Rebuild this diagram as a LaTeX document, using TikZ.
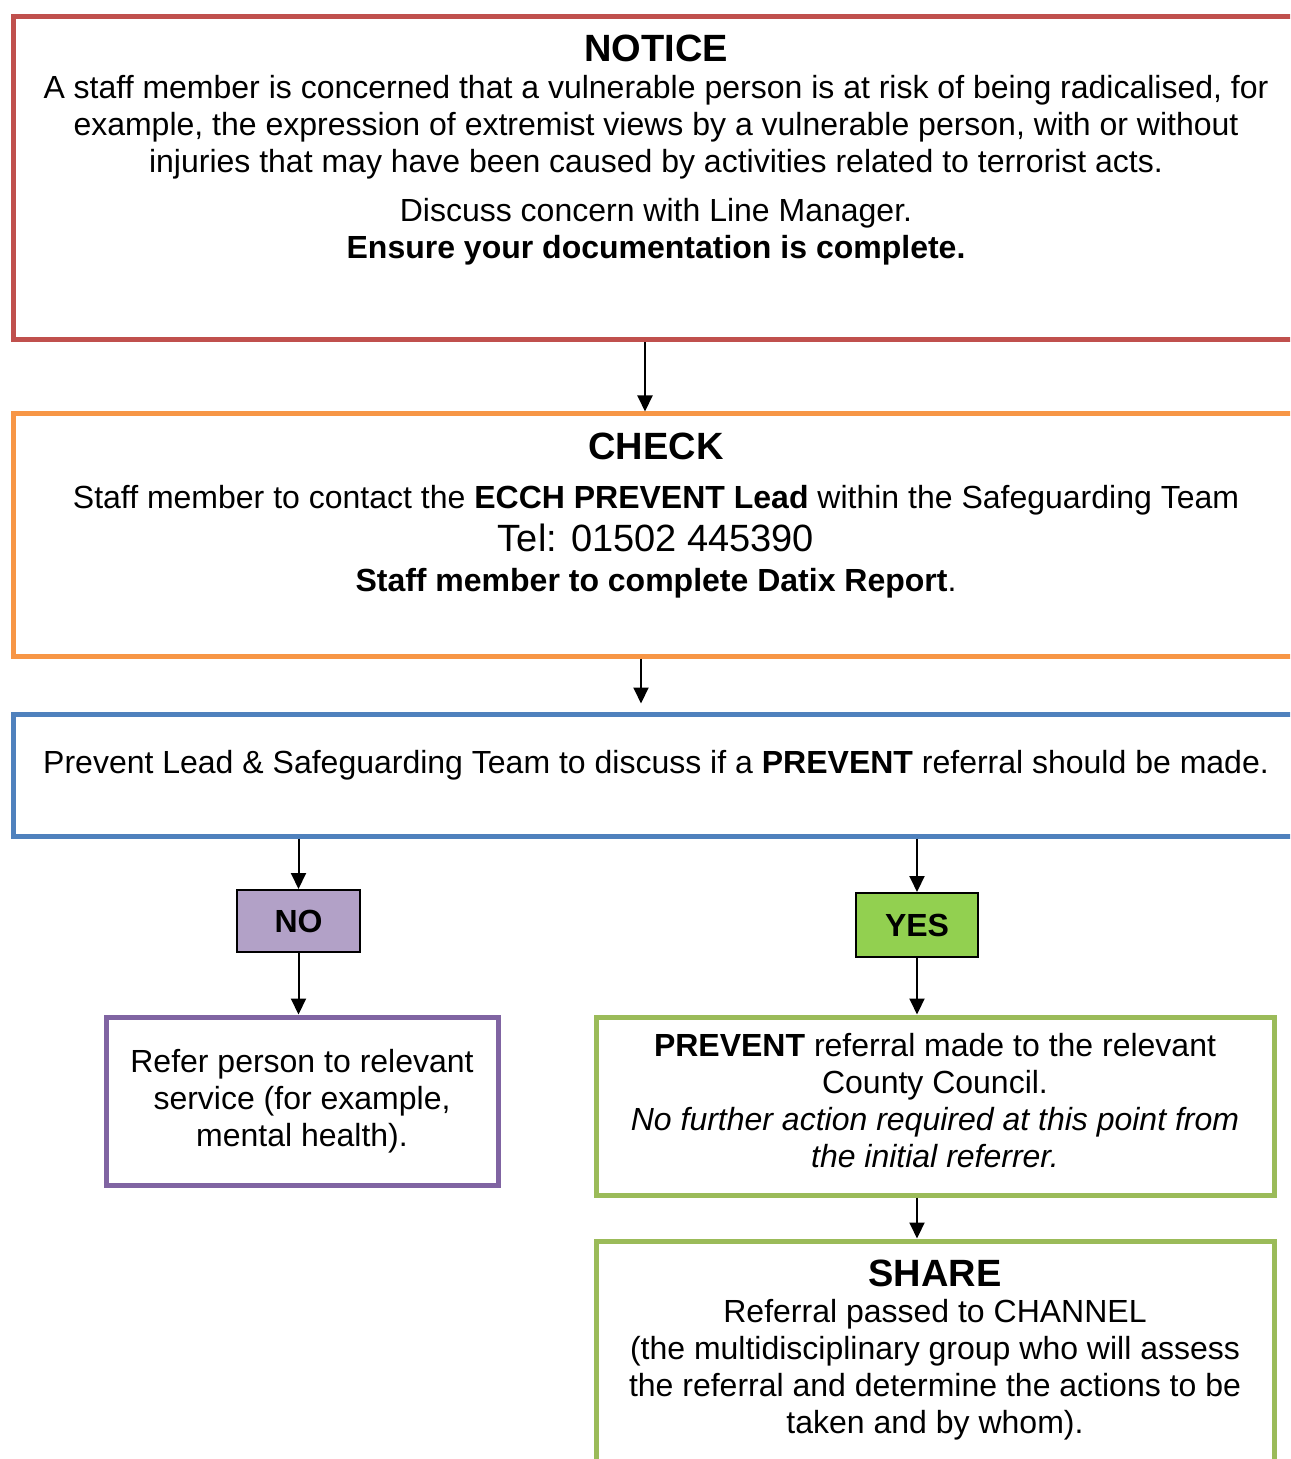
\documentclass[tikz,border=0pt]{standalone}
\usepackage{fontspec}
\setmainfont{Liberation Sans}
\usetikzlibrary{arrows.meta}
\definecolor{noticered}{HTML}{C0504D}
\definecolor{checkorange}{HTML}{F79646}
\definecolor{discussblue}{HTML}{4F81BD}
\definecolor{referpurple}{HTML}{8064A2}
\definecolor{sharegreen}{HTML}{9BBB59}
\definecolor{nofill}{HTML}{B2A1C7}
\definecolor{yesfill}{HTML}{92D050}

\begin{document}
\begin{tikzpicture}[x=0.5pt,y=-0.5pt,
	box/.style={draw,line width=2.5pt,inner sep=0},
	choice/.style={draw=black,line width=1pt,inner sep=0,font=\bfseries\fontsize{16}{18.5}\selectfont},
	txt/.style={align=center,anchor=base,inner sep=0,font=\fontsize{16}{18.5}\selectfont},
	head/.style={anchor=base,inner sep=0,font=\bfseries\fontsize{19}{22}\selectfont},
	arr/.style={-{Triangle[length=8pt,width=7.5pt]},line width=1pt}]
	\useasboundingbox (0,0) rectangle (1290,1459);
	\clip (0,0) rectangle (1290,1459);
	\node[box,draw=noticered,minimum width=643pt,minimum height=161.5pt] (notice) at (656,178.5) {};
	\node[box,draw=checkorange,minimum width=643pt,minimum height=121pt] (check) at (656,535) {};
	\node[box,draw=discussblue,minimum width=643pt,minimum height=61pt] (discuss) at (656,775) {};
	\node[choice,fill=nofill,minimum width=61.5pt,minimum height=31pt] (no) at (298.5,921) {NO};
	\node[choice,fill=yesfill,minimum width=61pt,minimum height=32pt] (yes) at (917,925) {YES};
	\node[box,draw=referpurple,minimum width=196pt,minimum height=84pt] (refer) at (302,1101) {};
	\node[box,draw=sharegreen,minimum width=339pt,minimum height=89pt] (referral) at (935,1106) {};
	\node[box,draw=sharegreen,minimum width=339pt,minimum height=129pt] (share) at (935,1370) {};

	\node[head] (noticehead) at (656,62) {NOTICE};
	\node[txt] (noticetxt) at (656,173) {A staff member is concerned that a vulnerable person is at risk of being radicalised, for\\example, the expression of extremist views by a vulnerable person, with or without\\injuries that may have been caused by activities related to terrorist acts.};
	\node[txt] (noticeact) at (656,259) {Discuss concern with Line Manager.\\\textbf{Ensure your documentation is complete.}};
	\node[head] (checkhead) at (656,460) {CHECK};
	\node[txt] (checktxt) at (656,509) {Staff member to contact the \textbf{ECCH PREVENT Lead} within the Safeguarding Team};
	\node[txt,font=\fontsize{19}{22}\selectfont] (checktel) at (656,551) {Tel: 01502 445390};
	\node[txt] (checkdatix) at (656,591) {\textbf{Staff member to complete Datix Report}.};
	\node[txt] (discusstxt) at (656,773) {Prevent Lead \& Safeguarding Team to discuss if a \textbf{PREVENT} referral should be made.};
	\node[txt] (refertxt) at (302,1146) {Refer person to relevant\\service (for example,\\mental health).};
	\node[txt] (referraltxt) at (935,1167) {\textbf{PREVENT} referral made to the relevant\\County Council.\\\textit{No further action required at this point from}\\\textit{the initial referrer.}};
	\node[head] (sharehead) at (935,1286) {SHARE};
	\node[txt] (sharetxt) at (935,1433) {Referral passed to CHANNEL\\(the multidisciplinary group who will assess\\the referral and determine the actions to be\\taken and by whom).};

	\draw[arr] ([xshift=-5.5pt]notice.south) -- ([xshift=-5.5pt]check.north);
	\draw[arr] ([xshift=-7.5pt]check.south) -- ([xshift=-7.5pt,yshift=4pt]discuss.north);
	\draw[arr] (discuss.south -| no.north) -- (no.north);
	\draw[arr] (no.south) -- (refer.north -| no.south);
	\draw[arr] (discuss.south -| yes.north) -- (yes.north);
	\draw[arr] (yes.south) -- (referral.north -| yes.south);
	\draw[arr] (referral.south -| yes.south) -- (share.north -| yes.south);
\end{tikzpicture}
\end{document}
